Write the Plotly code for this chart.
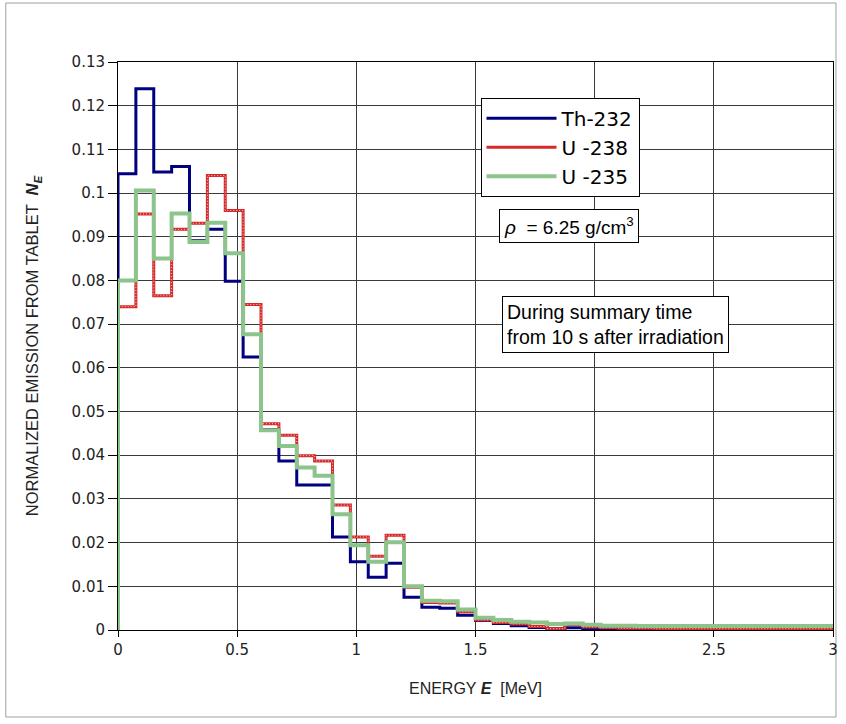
import plotly.graph_objects as go

# Energy bins (left edges, MeV), bin width 0.075 MeV, range 0-3 MeV
bin_width = 0.075
n_bins = 40
bin_edges = [round(i * bin_width, 3) for i in range(n_bins + 1)]

th232 = [0.1044, 0.1239, 0.1048, 0.1061, 0.0891, 0.0917, 0.0798, 0.0625,
         0.0459, 0.0387, 0.0332, 0.0332, 0.0213, 0.0156, 0.0121, 0.0153,
         0.0075, 0.0052, 0.0050, 0.0034, 0.0022, 0.0015, 0.0010, 0.0006,
         0.0003, 0.0005, 0.0003, 0.0003, 0.0002, 0.0002, 0.0002, 0.0002,
         0.0002, 0.0002, 0.0002, 0.0002, 0.0002, 0.0002, 0.0002, 0.0002]

u238 = [0.0740, 0.0952, 0.0765, 0.0917, 0.0931, 0.1040, 0.0960, 0.0745,
        0.0472, 0.0446, 0.0399, 0.0387, 0.0286, 0.0213, 0.0169, 0.0217,
        0.0098, 0.0063, 0.0062, 0.0042, 0.0023, 0.0017, 0.0014, 0.0008,
        0.0003, 0.0012, 0.0007, 0.0005, 0.0004, 0.0004, 0.0003, 0.0003,
        0.0003, 0.0003, 0.0003, 0.0003, 0.0003, 0.0003, 0.0003, 0.0003]

u235 = [0.0800, 0.1006, 0.0850, 0.0953, 0.0888, 0.0932, 0.0862, 0.0677,
        0.0457, 0.0421, 0.0372, 0.0353, 0.0265, 0.0194, 0.0156, 0.0201,
        0.0100, 0.0067, 0.0066, 0.0047, 0.0028, 0.0023, 0.0019, 0.0017,
        0.0014, 0.0015, 0.0012, 0.0010, 0.0010, 0.0009, 0.0009, 0.0009,
        0.0009, 0.0009, 0.0009, 0.0009, 0.0009, 0.0009, 0.0009, 0.0009]

series_names = ["Th-232", "U -238", "U -235"]

x_ticks = [0, 0.5, 1, 1.5, 2, 2.5, 3]


def step_xy(values):
    # start at (0,0), step through each bin, close at the last edge
    xs = [bin_edges[0]] + bin_edges[:-1] + [bin_edges[-1]]
    ys = [0.0] + list(values) + [values[-1]]
    return xs, ys


FONT = "Liberation Sans, Arial, sans-serif"
WIDE = "DejaVu Sans, sans-serif"

fig = go.Figure()

x, y = step_xy(th232)
fig.add_trace(go.Scatter(x=x, y=y, mode="lines", line_shape="hv",
                         name=series_names[0],
                         line=dict(color="#000080", width=3)))

x, y = step_xy(u238)
fig.add_trace(go.Scatter(x=x, y=y, mode="lines", line_shape="hv",
                         name=series_names[1],
                         line=dict(color="#d62a2a", width=3)))
fig.add_trace(go.Scatter(x=x, y=y, mode="lines", line_shape="hv",
                         showlegend=False, hoverinfo="skip",
                         line=dict(color="rgba(255,255,255,0.75)", width=1,
                                   dash="1px,2px")))

x, y = step_xy(u235)
fig.add_trace(go.Scatter(x=x, y=y, mode="lines", line_shape="hv",
                         name=series_names[2],
                         line=dict(color="#8cc48c", width=4)))

fig.update_layout(
    width=846, height=724,
    margin=dict(l=118, r=8, t=62, b=94),
    paper_bgcolor="white", plot_bgcolor="white",
    font=dict(family=FONT, color="black"),
    showlegend=True,
    legend=dict(
        x=0.507, y=0.937, xanchor="left", yanchor="top",
        bgcolor="white", bordercolor="black", borderwidth=1,
        font=dict(family=WIDE, size=20, color="black"),
        itemwidth=70, tracegroupgap=0,
    ),
    xaxis=dict(
        range=[0, 3], tickvals=x_ticks,
        showgrid=True, gridcolor="#3a3a3a", gridwidth=1,
        showline=True, linecolor="black", linewidth=1, mirror=True,
        ticks="outside", ticklen=6, tickcolor="black",
        tickfont=dict(family=WIDE, size=15, color="#222"),
        zeroline=False,
        title=dict(text="ENERGY <b><i>E</i></b>  [MeV]",
                   font=dict(family=FONT, size=16, color="#222"), standoff=24),
    ),
    yaxis=dict(
        range=[0, 0.13], dtick=0.01, tick0=0,
        showgrid=True, gridcolor="#3a3a3a", gridwidth=1,
        showline=True, linecolor="black", linewidth=1, mirror=True,
        ticks="outside", ticklen=9, tickcolor="black",
        tickfont=dict(family=WIDE, size=15, color="#222"),
        zeroline=False,
        title=dict(text="NORMALIZED EMISSION FROM TABLET  <b><i>N<sub>E</sub></i></b>",
                   font=dict(family=FONT, size=16.5, color="#222"), standoff=28),
    ),
    annotations=[
        dict(xref="paper", yref="paper", x=0.6306, y=0.712,
             xanchor="center", yanchor="middle", showarrow=False,
             text="<i>ρ</i>  = 6.25 g/cm<sup>3</sup>",
             font=dict(family=FONT, size=19, color="black"),
             bgcolor="white", bordercolor="black", borderwidth=1, borderpad=4),
        dict(xref="paper", yref="paper", x=0.6965, y=0.5387,
             xanchor="center", yanchor="middle", showarrow=False, align="left",
             text="During summary time<br>from 10 s after irradiation",
             font=dict(family=FONT, size=19.5, color="black"),
             bgcolor="white", bordercolor="black", borderwidth=1, borderpad=4),
    ],
    shapes=[
        dict(type="rect", xref="paper", yref="paper",
             x0=(5 - 118) / 720, x1=(841 - 118) / 720,
             y0=(630 - 717) / 568, y1=(630 - 3) / 568,
             line=dict(color="#a0a0a0", width=1), fillcolor="rgba(0,0,0,0)",
             layer="below"),
    ],
)

fig.write_html("out.html")
